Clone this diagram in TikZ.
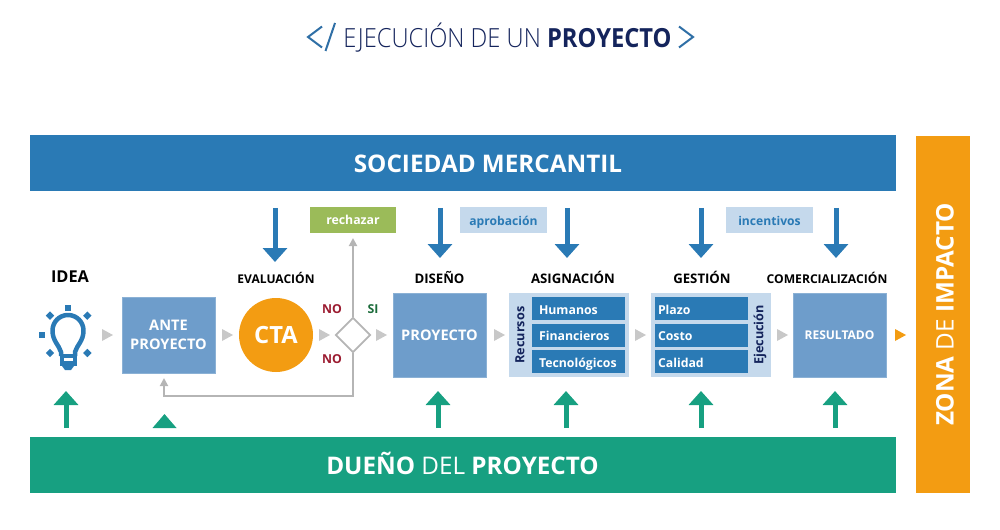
\documentclass[tikz,border=0pt]{standalone}
\usepackage{fontspec}
\setmainfont{Open Sans}
\newfontfamily\lightfont{Open Sans Light}
\usepackage{tikz}
\usetikzlibrary{arrows.meta,shapes.geometric}
\definecolor{barblue}{HTML}{2A7AB5}
\definecolor{boxblue}{HTML}{6E9DCB}
\definecolor{paleblue}{HTML}{C5D9EC}
\definecolor{barteal}{HTML}{17A081}
\definecolor{zonaorange}{HTML}{F39C12}
\definecolor{navy}{HTML}{14245C}
\definecolor{chevron}{HTML}{2F6FA6}
\definecolor{leaf}{HTML}{9BBB59}
\definecolor{flowgrey}{HTML}{B5B5B5}
\definecolor{tipgrey}{HTML}{C8C8C8}
\definecolor{noRed}{HTML}{9B1B30}
\definecolor{siGreen}{HTML}{1B6B3A}
\def\px{0.02cm}
\tikzset{
	fnt/.style={font=\fontsize{#1}{#1}\selectfont\bfseries},
	bar/.style={fill=#1, text=white, inner sep=0pt},
	stagebox/.style={fill=boxblue, draw=boxblue!80!white, text=white, align=center, inner sep=0pt,
		minimum width=93*\px, minimum height=84*\px, font=\fontsize{8.3}{11}\selectfont\bfseries},
	panel/.style={fill=paleblue, inner sep=0pt, minimum width=120*\px, minimum height=84*\px},
	rowbox/.style={fill=barblue, text=white, inner sep=0pt, text height=1.55ex, text depth=.35ex,
		minimum width=93*\px, minimum height=23*\px, font=\fontsize{7}{9}\selectfont\bfseries},
	stagelabel/.style={font=\fontsize{#1}{9}\selectfont\bfseries, text=black},
	tagbox/.style={fill=paleblue, text=barblue, inner sep=0pt, text height=1.55ex, text depth=.35ex,
		minimum width=87*\px, minimum height=26*\px, font=\fontsize{6.9}{9}\selectfont\bfseries},
	answer/.style={font=\fontsize{7}{9}\selectfont\bfseries},
	downarrow/.style={draw=barblue, line width=5*\px, -{Triangle[width=24*\px,length=14*\px]}},
	uparrow/.style={draw=barteal, line width=5*\px, -{Triangle[width=24*\px,length=14*\px]}},
	flow/.style={draw=flowgrey, line width=1.9*\px, -{Triangle[width=8*\px,length=8*\px]}},
}
\begin{document}
\begin{tikzpicture}[x=\px, y=-\px]
	\useasboundingbox (0,0) rectangle (1000,530);

	% --- title ---
	\node (title) at (507.5,37.5) {\scalebox{0.9}[1]{\fontsize{15}{18}\selectfont\color{navy}\lightfont EJECUCIÓN DE UN {\normalfont\bfseries PROYECTO}}};
	\draw[chevron, line width=2*\px] (322,26.5) -- (308,37) -- (322,47.5);
	\draw[chevron, line width=2*\px] (325.5,51) -- (335,23);
	\draw[chevron, line width=2*\px] (679,26.5) -- (693,37) -- (679,47.5);

	% --- bars ---
	\node[bar=barblue, minimum width=866*\px, minimum height=56*\px] (sociedad) at (463,163.5) {};
	\node[text=white, fnt=13.8] (sociedadtxt) at (488,163.5) {SOCIEDAD MERCANTIL};
	\node[bar=barteal, minimum width=866*\px, minimum height=56*\px] (dueno) at (463,465) {};
	\node[text=white, fnt=13.8] (duenotxt) at (462.5,463) {DUEÑO {\normalfont DEL} PROYECTO};
	\node[bar=zonaorange, minimum width=54*\px, minimum height=357*\px] (zona) at (943,314.5) {};
	\node[rotate=90, text=white, fnt=13.8] (zonatxt) at (945,314.5) {ZONA {\normalfont DE} IMPACTO};

	% --- stages ---
	\node[stagebox, minimum height=76*\px] (ante) at (168.5,335) {ANTE\\PROYECTO};
	\node[circle, fill=zonaorange, minimum size=74*\px, inner sep=0pt, text=white, fnt=13.5] (cta) at (276,335) {CTA};
	\node[diamond, draw=flowgrey, fill=white, line width=1.9*\px, minimum width=35*\px, minimum height=35*\px, inner sep=0pt] (decision) at (353,335) {};
	\node[stagebox] (proyecto) at (439.5,335) {PROYECTO};
	\node[stagebox] (resultado) at (839.5,335) {\fontsize{6.85}{9}\selectfont RESULTADO};

	% panel de recursos
	\node[panel] (recursos) at (569,335) {};
	\node[rotate=90, text=navy, fnt=7.2] (recursostxt) at (520,335) {Recursos};
	\foreach \n/\y/\t in {hum/308.5/Humanos, fin/335/Financieros, tec/361.5/Tecnológicos}
		\node[rowbox, text width=78*\px, align=left] (\n) at (578,\y) {\t};

	% panel de ejecucion
	\node[panel] (ejecucion) at (710.5,335) {};
	\node[rotate=90, text=navy, fnt=7.2] (ejecuciontxt) at (760,335) {Ejecución};
	\foreach \n/\y/\t in {pla/308.5/Plazo, cos/335/Costo, cal/361.5/Calidad}
		\node[rowbox, text width=87*\px, align=left] (\n) at (701.5,\y) {\t};

	% --- labels ---
	\node[stagelabel=9.3] (idea) at (70,277) {IDEA};
	\foreach \n/\x/\s/\t in {evaluacion/276/6.85/EVALUACIÓN, diseno/439.5/7.5/DISEÑO, asignacion/573/7.5/ASIGNACIÓN, gestion/702/7.5/GESTIÓN, comercial/827/6.9/COMERCIALIZACIÓN}
		\node[stagelabel=\s] (\n) at (\x,277.5) {\t};
	\node[fill=leaf, text=white, inner sep=0pt, minimum width=86*\px, minimum height=26*\px, font=\fontsize{7}{9}\selectfont\bfseries] (rechazar) at (353,220) {rechazar};
	\node[tagbox] (aprobacion) at (503.5,220) {aprobación};
	\node[tagbox] (incentivos) at (769.5,220) {incentivos};
	\node[answer, text=noRed] (noup) at (332,309) {NO};
	\node[answer, text=siGreen] (si) at (373,309) {SI};
	\node[answer, text=noRed] (nodown) at (332,359) {NO};

	% --- arrows from the bars ---
	\foreach \x/\e in {275/262, 440/258, 567/258, 701/258, 836/258} {
		\coordinate (a) at (\x,208);
		\coordinate (b) at (\x,\e);
		\draw[downarrow] (a) -- (b);
	}
	\foreach \x in {66, 438, 566, 701, 835} {
		\coordinate (a) at (\x,428);
		\coordinate (b) at (\x,391);
		\draw[uparrow] (a) -- (b);
	}
	\fill[barteal] (152.5,428) -- (164.5,414) -- (176.5,428) -- cycle;

	% --- grey flow ---
	\foreach \x in {102, 222, 319, 376, 494, 635, 777}
		\fill[tipgrey] (\x,329) -- (\x+11,335) -- (\x,341) -- cycle;
	\fill[zonaorange] (895,329) -- (906,335) -- (895,341) -- cycle;
	\coordinate (rechazartip) at (353,238);
	\coordinate (antecorner) at (353,396);
	\coordinate (antetip) at (164,378);
	\draw[flow] (decision.north) -- (rechazartip);
	\draw[flow] (decision.south) -- (antecorner) -- (antecorner -| antetip) -- (antetip);

	% --- bulb ---
	\draw[barblue, line width=4.5*\px, line join=round]
		(61,356) -- (61,352) .. controls (59,345) and (52.5,341) .. (52.5,330.5)
		arc[start angle=180, end angle=360, radius=15.5]
		.. controls (83.5,341) and (77,345) .. (75,352) -- (75,356);
	\fill[barblue] (59.5,354) rectangle (76.5,366);
	\fill[white] (63.5,358) rectangle (72.5,360.5);
	\fill[barblue] (62,366) -- (74,366) -- (71,370) -- (65,370) -- cycle;
	\foreach \x/\y/\r in {68.3/308/0, 42.3/334.7/0, 50/315.7/45, 87.3/315.7/45, 50/353/45, 87.3/353/45}
		\fill[barblue, rotate around={\r:(\x,\y)}] (\x-3,\y-3) rectangle (\x+3,\y+3);
\end{tikzpicture}
\end{document}
